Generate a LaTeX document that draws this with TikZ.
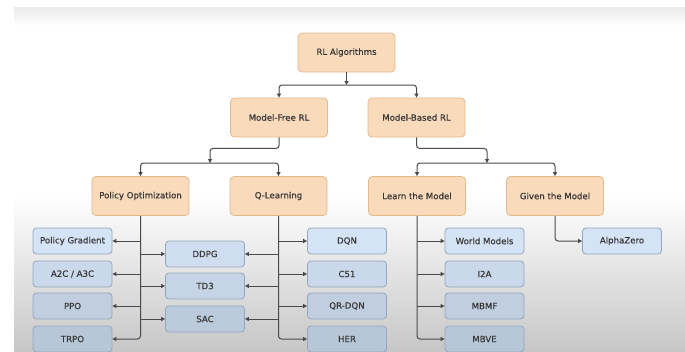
\documentclass[tikz,border=0pt]{standalone}
\usepackage{fontspec}
\setmainfont[FakeBold=0.4]{DejaVu Sans}
\usetikzlibrary{arrows.meta}
\definecolor{orfill}{HTML}{F9DABA}
\definecolor{orline}{HTML}{E2BA8E}
\definecolor{blline}{HTML}{93A7BF}
\definecolor{txt}{HTML}{383838}
\definecolor{lnc}{HTML}{4A4A4A}
\definecolor{bA}{HTML}{D4E3F5}
\definecolor{bB}{HTML}{C9D8EA}
\definecolor{bC}{HTML}{C0CEE0}
\definecolor{bD}{HTML}{B8C7D8}
\definecolor{mA}{HTML}{CEDDEF}
\definecolor{mB}{HTML}{C5D4E6}
\definecolor{mC}{HTML}{BCCBDC}
\begin{document}
\begin{tikzpicture}[x=1pt,y=-1pt,
  every node/.style={font=\fontsize{8.6}{10}\selectfont},
  obox/.style={draw=orline, fill=orfill, line width=0.8pt, rounded corners=4pt,
    minimum width=97pt, minimum height=39pt, text=txt, inner sep=1pt},
  bbox/.style={draw=blline, fill=#1, line width=0.8pt, rounded corners=3.5pt,
    minimum width=79pt, minimum height=26pt, text=txt, inner sep=1pt},
  conn/.style={draw=lnc, line width=1pt, rounded corners=3pt},
  arr/.style={conn, -{Triangle[length=4pt,width=4pt]}}]
\useasboundingbox (0,0) rectangle (685,351);
\fill[white] (0,0) rectangle (685,351);
\shade[top color=black!8, bottom color=white] (14,7) rectangle (685,26);
\shade[top color=white, bottom color=black!22] (14,195) rectangle (685,351);

% orange nodes
\node[obox] (rl) at (346.5,52.5) {RL Algorithms};
\node[obox] (mf) at (279,117.5) {Model-Free RL};
\node[obox] (mb) at (416.5,117.5) {Model-Based RL};
\node[obox] (po) at (140.5,196) {Policy Optimization};
\node[obox] (ql) at (278.5,196) {Q-Learning};
\node[obox] (lm) at (417,196) {Learn the Model};
\node[obox] (gm) at (555,196) {Given the Model};

% blue nodes
\node[bbox=bA] (pg) at (72.5,241) {Policy Gradient};
\node[bbox=bB] (a2c) at (72.5,274) {A2C / A3C};
\node[bbox=bC] (ppo) at (72.5,306) {PPO};
\node[bbox=bD] (trpo) at (72.5,339) {TRPO};
\node[bbox=mA] (ddpg) at (205,254) {DDPG};
\node[bbox=mB] (td3) at (205,286) {TD3};
\node[bbox=mC] (sac) at (205,319) {SAC};
\node[bbox=bA] (dqn) at (347,241) {DQN};
\node[bbox=bB] (c51) at (347,274) {C51};
\node[bbox=bC] (qrdqn) at (347,306) {QR-DQN};
\node[bbox=bD] (her) at (347,339) {HER};
\node[bbox=bA] (wm) at (484.5,241) {World Models};
\node[bbox=bB] (i2a) at (484.5,274) {I2A};
\node[bbox=bC] (mbmf) at (484.5,306) {MBMF};
\node[bbox=bD] (mbve) at (484.5,339) {MBVE};
\node[bbox=bA] (az) at (622,241) {AlphaZero};

% top connectors
\coordinate (j1) at (346.5,85);
\draw[arr] (rl.south) -- (j1);
\draw[arr] (j1) -| (mf.north);
\draw[arr] (j1) -| (mb.north);
\coordinate (j2) at (210,163);
\draw[arr] (mf.south) -- ++(0,11) -| (j2);
\draw[arr] (j2) -| (po.north);
\draw[arr] (j2) -| (ql.north);
\coordinate (j3) at (487,163);
\draw[arr] (mb.south) -- ++(0,11) -| (j3);
\draw[arr] (j3) -| (lm.north);
\draw[arr] (j3) -| (gm.north);

% policy optimization
\draw[arr] (po.south) |- (trpo.east);
\draw[arr] (po.south |- pg.east) -- (pg.east);
\draw[arr] (po.south |- a2c.east) -- (a2c.east);
\draw[arr] (po.south |- ppo.east) -- (ppo.east);
\draw[arr] (po.south |- ddpg.west) -- (ddpg.west);
\draw[arr] (po.south |- td3.west) -- (td3.west);
\draw[arr] (po.south |- sac.west) -- (sac.west);

% q-learning
\draw[arr] (ql.south) |- (her.west);
\draw[arr] (ql.south |- dqn.west) -- (dqn.west);
\draw[arr] (ql.south |- c51.west) -- (c51.west);
\draw[arr] (ql.south |- qrdqn.west) -- (qrdqn.west);
\draw[arr] (ql.south |- ddpg.east) -- (ddpg.east);
\draw[arr] (ql.south |- td3.east) -- (td3.east);
\draw[arr] (ql.south |- sac.east) -- (sac.east);

% learn the model
\draw[arr] (lm.south) |- (mbve.west);
\draw[arr] (lm.south |- wm.west) -- (wm.west);
\draw[arr] (lm.south |- i2a.west) -- (i2a.west);
\draw[arr] (lm.south |- mbmf.west) -- (mbmf.west);

% given the model
\draw[arr] (gm.south) |- (az.west);
\end{tikzpicture}
\end{document}
